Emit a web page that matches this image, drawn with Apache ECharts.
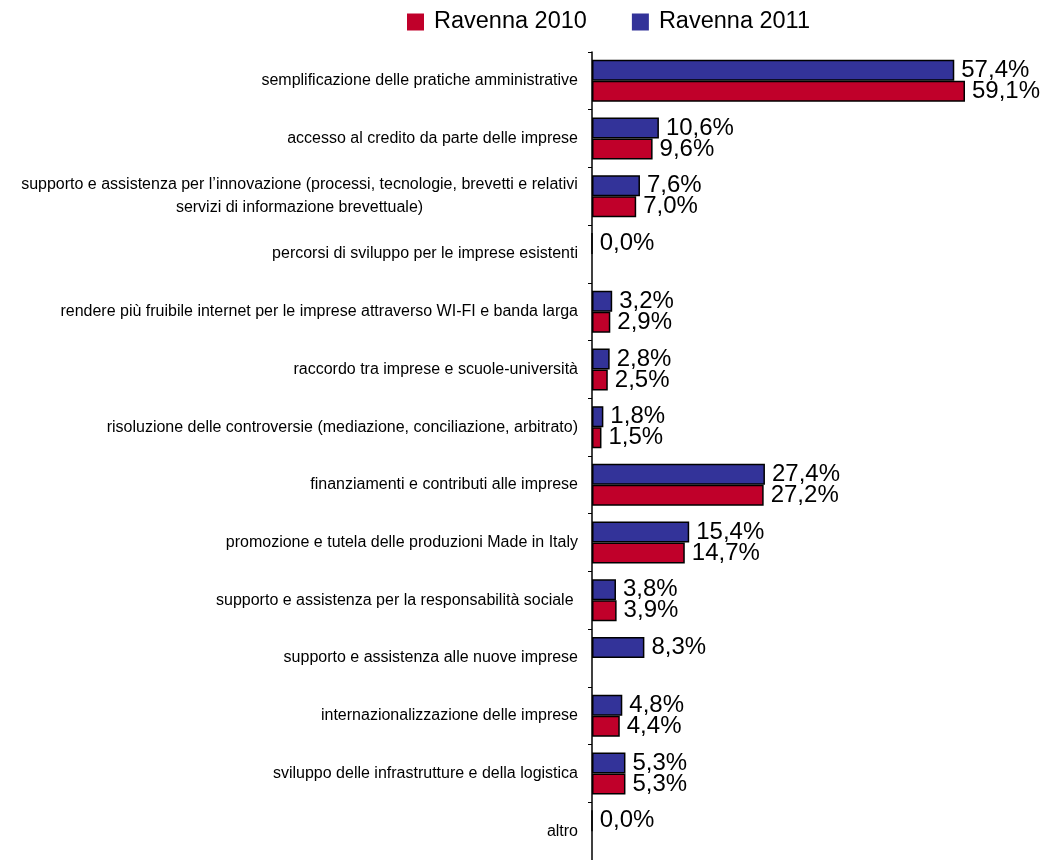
<!DOCTYPE html>
<html>
<head>
<meta charset="utf-8">
<script src="https://cdn.jsdelivr.net/npm/echarts@6/dist/echarts.min.js"></script>
<style>
html,body{margin:0;padding:0;background:#fff;}
#chart{width:1047px;height:860px;}
</style>
</head>
<body>
<div id="chart"></div>
<script>
// Categories, top to bottom as shown
const categories = [
  "semplificazione delle pratiche amministrative",
  "accesso al credito da parte delle imprese",
  "supporto e assistenza per l\u2019innovazione (processi, tecnologie, brevetti e relativi\nservizi di informazione brevettuale)",
  "percorsi di sviluppo per le imprese esistenti",
  "rendere più fruibile internet per le imprese attraverso WI-FI e banda larga",
  "raccordo tra imprese e scuole-università",
  "risoluzione delle controversie (mediazione, conciliazione, arbitrato)",
  "finanziamenti e contributi alle imprese",
  "promozione e tutela delle produzioni Made in Italy",
  "supporto e assistenza per la responsabilità sociale ",
  "supporto e assistenza alle nuove imprese",
  "internazionalizzazione delle imprese",
  "sviluppo delle infrastrutture e della logistica",
  "altro"
];
const seriesNames = ["Ravenna 2010", "Ravenna 2011"];
const ravenna2010 = [59.1, 9.6, 7.0, null, 2.9, 2.5, 1.5, 27.2, 14.7, 3.9, null, 4.4, 5.3, null];
const ravenna2011 = [57.4, 10.6, 7.6, 0.0, 3.2, 2.8, 1.8, 27.4, 15.4, 3.8, 8.3, 4.8, 5.3, 0.0];

const FONT = "'Liberation Sans', Arial, sans-serif";
const CAT_FS = 16;
const RED = '#C0002A';
const BLUE = '#333399';

// measure first line of multi-line label for centering
const ctx = document.createElement('canvas').getContext('2d');
ctx.font = CAT_FS + 'px ' + FONT;
const multiLines = categories[2].split('\n');
const multiW = Math.ceil(ctx.measureText(multiLines[0]).width);

const cats = categories.slice().reverse();
const d2010 = ravenna2010.slice().reverse();
const d2011 = ravenna2011.slice().reverse();

const chart = echarts.init(document.getElementById('chart'), null, {renderer: 'canvas'});
const labelCfg = {
  show: true,
  position: 'right',
  distance: 7,
  color: '#000',
  fontSize: 24,
  fontFamily: FONT,
  formatter: p => (p.value === null || p.value === undefined) ? '' : p.value.toFixed(1).replace('.', ',') + '%'
};
chart.setOption({
  animation: false,
  backgroundColor: '#fff',
  legend: {
    data: seriesNames,
    left: 407,
    top: 10,
    padding: 0,
    itemWidth: 17,
    itemHeight: 17,
    itemGap: 45,
    icon: 'rect',
    itemStyle: {borderWidth: 0},
    textStyle: {fontSize: 23.5, fontFamily: FONT, color: '#000', padding: [0, 0, 0, 5]}
  },
  grid: {left: 592, top: 52, height: 812, width: 441.8, containLabel: false},
  xAxis: {type: 'value', min: 0, max: 70, show: false},
  yAxis: {
    type: 'category',
    data: cats,
    axisLine: {show: true, lineStyle: {color: '#000', width: 1.5}},
    axisTick: {show: true, length: 4, lineStyle: {color: '#000', width: 1}},
    axisLabel: {
      fontSize: CAT_FS,
      fontFamily: FONT,
      color: '#000',
      margin: 14,
      lineHeight: 23,
      formatter: v => {
        if (v.indexOf('\n') >= 0) {
          return v.split('\n').map(s => '{c|' + s + '}').join('\n');
        }
        return v;
      },
      rich: {c: {width: multiW, align: 'center', fontSize: CAT_FS, fontFamily: FONT, color: '#000', lineHeight: 23}}
    },
    splitLine: {show: false}
  },
  series: [
    {
      name: seriesNames[1], type: 'bar', data: d2011,
      barWidth: 21, barGap: '0%',
      itemStyle: {color: BLUE, borderColor: '#000', borderWidth: 1.5},
      label: labelCfg
    },
    {
      name: seriesNames[0], type: 'bar', data: d2010,
      barWidth: 21, barGap: '0%',
      itemStyle: {color: RED, borderColor: '#000', borderWidth: 1.5},
      label: labelCfg
    }
  ]
});
</script>
</body>
</html>
